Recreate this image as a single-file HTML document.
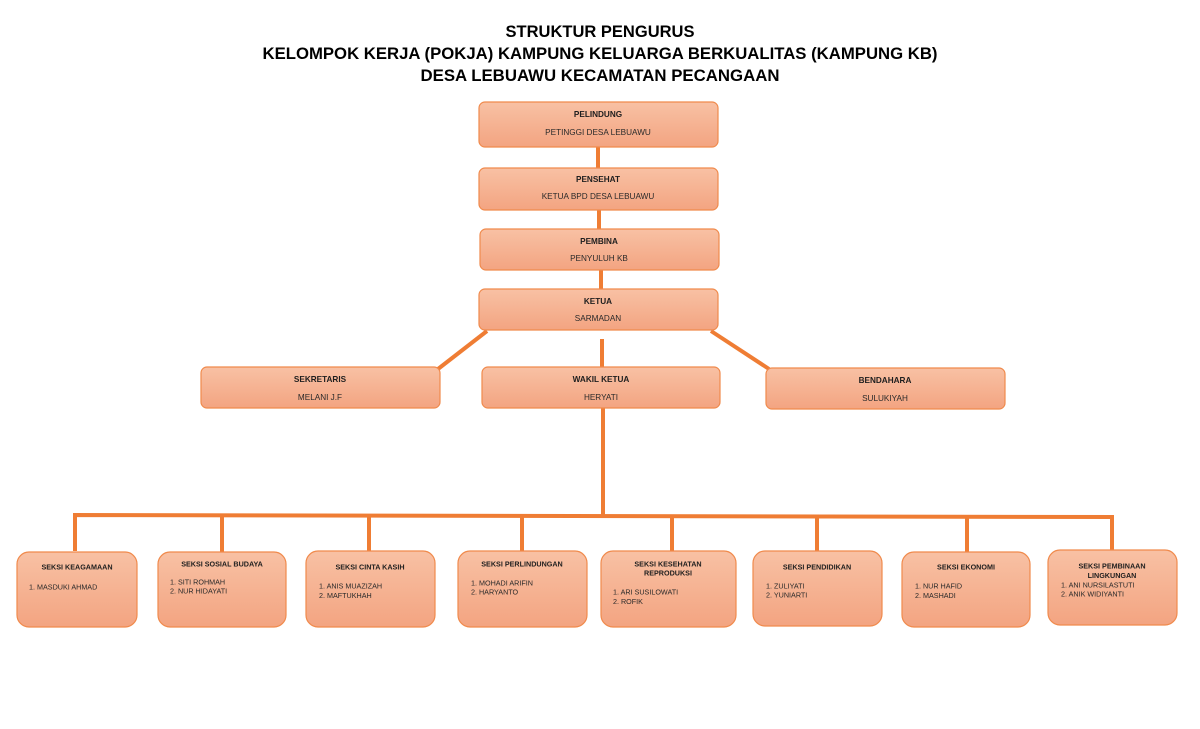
<!DOCTYPE html>
<html><head><meta charset="utf-8"><style>
html,body{margin:0;padding:0;background:#fff;width:1200px;height:729px;overflow:hidden}
svg{display:block}
text{font-family:"Liberation Sans",Arial,sans-serif;fill:#1e1e1e}
.t{font-weight:bold;font-size:16.5px;fill:#000}
.bh{font-weight:bold;font-size:8.2px}
.bs{font-size:8.2px;fill:#2a2a2a}
.sh{font-weight:bold;font-size:7.2px}
.si{font-size:7.2px;fill:#2a2a2a}
.box{fill:url(#g);stroke:#f08a4c;stroke-width:1.2}
.ln{stroke:#ef7d34;stroke-width:4;fill:none}
</style></head><body>
<svg width="1200" height="729" viewBox="0 0 1200 729" xmlns="http://www.w3.org/2000/svg">
<defs>
<linearGradient id="g" x1="0" y1="0" x2="0" y2="1">
<stop offset="0" stop-color="#f8c1a4"/>
<stop offset="1" stop-color="#f3a481"/>
</linearGradient>
</defs>

<text class="t" x="600" y="37" text-anchor="middle" textLength="189" lengthAdjust="spacingAndGlyphs">STRUKTUR PENGURUS</text>
<text class="t" x="600" y="59" text-anchor="middle" textLength="675" lengthAdjust="spacingAndGlyphs">KELOMPOK KERJA (POKJA) KAMPUNG KELUARGA BERKUALITAS (KAMPUNG KB)</text>
<text class="t" x="600" y="81" text-anchor="middle" textLength="359" lengthAdjust="spacingAndGlyphs">DESA LEBUAWU KECAMATAN PECANGAAN</text>

<!-- connectors -->
<line class="ln" x1="598" y1="146" x2="598" y2="168"/>
<line class="ln" x1="599" y1="210" x2="599" y2="229"/>
<line class="ln" x1="601" y1="270" x2="601" y2="290"/>
<line class="ln" x1="602" y1="339" x2="602" y2="367"/>
<line class="ln" x1="487" y1="331" x2="438" y2="369"/>
<line class="ln" x1="711" y1="331" x2="769" y2="369"/>
<line class="ln" x1="603" y1="408" x2="603" y2="517"/>
<polyline class="ln" points="75,551 75,515 1112,517 1112,550"/>
<line class="ln" x1="222" y1="515" x2="222" y2="552"/>
<line class="ln" x1="369" y1="516" x2="369" y2="551"/>
<line class="ln" x1="522" y1="516" x2="522" y2="551"/>
<line class="ln" x1="672" y1="516" x2="672" y2="551"/>
<line class="ln" x1="817" y1="517" x2="817" y2="551"/>
<line class="ln" x1="967" y1="517" x2="967" y2="552"/>

<!-- top boxes -->
<rect class="box" x="479" y="102" width="239" height="45" rx="6"/>
<text class="bh" x="598" y="117" text-anchor="middle">PELINDUNG</text>
<text class="bs" x="598" y="135" text-anchor="middle">PETINGGI DESA LEBUAWU</text>

<rect class="box" x="479" y="168" width="239" height="42" rx="6"/>
<text class="bh" x="598" y="182" text-anchor="middle">PENSEHAT</text>
<text class="bs" x="598" y="199" text-anchor="middle">KETUA BPD DESA LEBUAWU</text>

<rect class="box" x="480" y="229" width="239" height="41" rx="6"/>
<text class="bh" x="599" y="244" text-anchor="middle">PEMBINA</text>
<text class="bs" x="599" y="261" text-anchor="middle">PENYULUH KB</text>

<rect class="box" x="479" y="289" width="239" height="41" rx="6"/>
<text class="bh" x="598" y="304" text-anchor="middle">KETUA</text>
<text class="bs" x="598" y="321" text-anchor="middle">SARMADAN</text>

<rect class="box" x="201" y="367" width="239" height="41" rx="6"/>
<text class="bh" x="320" y="382" text-anchor="middle">SEKRETARIS</text>
<text class="bs" x="320" y="400" text-anchor="middle">MELANI J.F</text>

<rect class="box" x="482" y="367" width="238" height="41" rx="6"/>
<text class="bh" x="601" y="382" text-anchor="middle">WAKIL KETUA</text>
<text class="bs" x="601" y="400" text-anchor="middle">HERYATI</text>

<rect class="box" x="766" y="368" width="239" height="41" rx="6"/>
<text class="bh" x="885" y="383" text-anchor="middle">BENDAHARA</text>
<text class="bs" x="885" y="401" text-anchor="middle">SULUKIYAH</text>

<!-- bottom boxes -->
<rect class="box" x="17" y="552" width="120" height="75" rx="12"/>
<text class="sh" x="77" y="569.5" text-anchor="middle">SEKSI KEAGAMAAN</text>
<text class="si" x="29" y="589.5">1. MASDUKI AHMAD</text>

<rect class="box" x="158" y="552" width="128" height="75" rx="12"/>
<text class="sh" x="222" y="566.5" text-anchor="middle">SEKSI SOSIAL BUDAYA</text>
<text class="si" x="170" y="584.5">1. SITI ROHMAH</text>
<text class="si" x="170" y="593.5">2. NUR HIDAYATI</text>

<rect class="box" x="306" y="551" width="129" height="76" rx="12"/>
<text class="sh" x="370" y="569.5" text-anchor="middle">SEKSI CINTA KASIH</text>
<text class="si" x="319" y="588.5">1. ANIS MUAZIZAH</text>
<text class="si" x="319" y="598">2. MAFTUKHAH</text>

<rect class="box" x="458" y="551" width="129" height="76" rx="12"/>
<text class="sh" x="522" y="566.5" text-anchor="middle">SEKSI PERLINDUNGAN</text>
<text class="si" x="471" y="585.5">1. MOHADI ARIFIN</text>
<text class="si" x="471" y="594.5">2. HARYANTO</text>

<rect class="box" x="601" y="551" width="135" height="76" rx="12"/>
<text class="sh" x="668" y="566.5" text-anchor="middle">SEKSI KESEHATAN</text>
<text class="sh" x="668" y="575.5" text-anchor="middle">REPRODUKSI</text>
<text class="si" x="613" y="594.5">1. ARI SUSILOWATI</text>
<text class="si" x="613" y="604">2. ROFIK</text>

<rect class="box" x="753" y="551" width="129" height="75" rx="12"/>
<text class="sh" x="817" y="569.5" text-anchor="middle">SEKSI PENDIDIKAN</text>
<text class="si" x="766" y="588.5">1. ZULIYATI</text>
<text class="si" x="766" y="597.5">2. YUNIARTI</text>

<rect class="box" x="902" y="552" width="128" height="75" rx="12"/>
<text class="sh" x="966" y="569.5" text-anchor="middle">SEKSI EKONOMI</text>
<text class="si" x="915" y="588.5">1. NUR HAFID</text>
<text class="si" x="915" y="598">2. MASHADI</text>

<rect class="box" x="1048" y="550" width="129" height="75" rx="12"/>
<text class="sh" x="1112" y="568.5" text-anchor="middle">SEKSI PEMBINAAN</text>
<text class="sh" x="1112" y="578" text-anchor="middle">LINGKUNGAN</text>
<text class="si" x="1061" y="587.5">1. ANI NURSILASTUTI</text>
<text class="si" x="1061" y="596.5">2. ANIK WIDIYANTI</text>
</svg>
</body></html>
